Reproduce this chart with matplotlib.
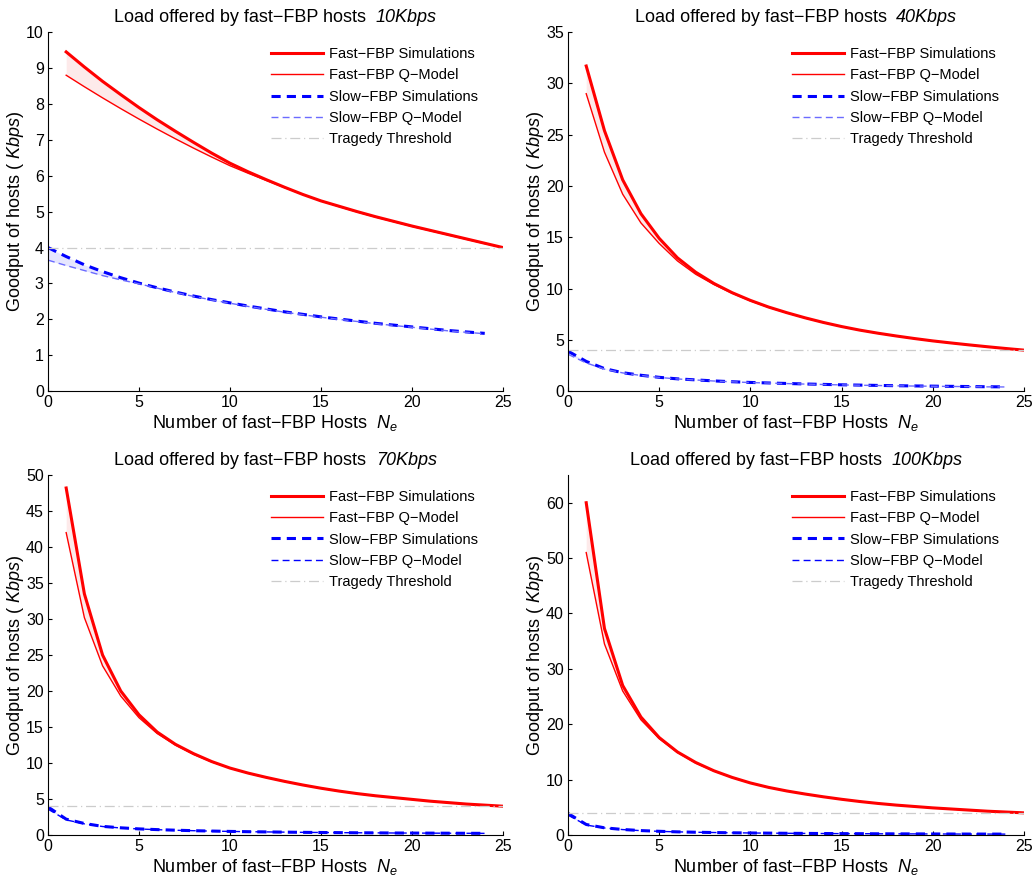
import matplotlib
matplotlib.use('Agg')
import matplotlib.pyplot as plt
from matplotlib.offsetbox import TextArea, HPacker, AnchoredOffsetbox
import numpy as np

plt.rcParams['font.family'] = ['Liberation Sans', 'DejaVu Sans']
plt.rcParams['mathtext.fontset'] = 'custom'
plt.rcParams['mathtext.rm'] = 'Liberation Sans'
plt.rcParams['mathtext.it'] = 'Liberation Sans:italic'

# Данные
loads = ['10Kbps', '40Kbps', '70Kbps', '100Kbps']
n_fast = np.arange(1, 26)
n_slow = np.arange(0, 25)
threshold = 4.0

fast_sim_10 = [9.45, 9.03, 8.63, 8.26, 7.9, 7.56, 7.24, 6.93, 6.63, 6.35, 6.11, 5.89, 5.68,
               5.48, 5.3, 5.15, 5.0, 4.86, 4.73, 4.6, 4.48, 4.36, 4.24, 4.12, 4.0]
fast_mod_10 = [8.8, 8.48, 8.17, 7.87, 7.58, 7.3, 7.03, 6.77, 6.52, 6.28, 6.07, 5.87, 5.67,
               5.48, 5.3, 5.14, 4.99, 4.85, 4.72, 4.59, 4.47, 4.35, 4.23, 4.11, 4.0]
slow_sim_10 = [4.0, 3.75, 3.52, 3.33, 3.16, 3.01, 2.88, 2.76, 2.65, 2.55, 2.46, 2.37, 2.29,
               2.21, 2.14, 2.07, 2.01, 1.95, 1.89, 1.84, 1.79, 1.74, 1.69, 1.65, 1.61]
slow_mod_10 = [3.65, 3.5, 3.36, 3.22, 3.1, 2.99, 2.87, 2.75, 2.64, 2.54, 2.45, 2.36, 2.28,
               2.2, 2.13, 2.06, 2.0, 1.94, 1.88, 1.83, 1.78, 1.73, 1.68, 1.64, 1.6]

fast_sim_40 = [31.7, 25.4, 20.6, 17.3, 14.9, 13.0, 11.6, 10.5, 9.6, 8.85, 8.2, 7.65, 7.15,
               6.7, 6.3, 5.95, 5.65, 5.38, 5.13, 4.9, 4.7, 4.51, 4.33, 4.16, 4.0]
fast_mod_40 = [29.0, 23.3, 19.2, 16.4, 14.4, 12.7, 11.4, 10.4, 9.55, 8.8, 8.17, 7.63, 7.13,
               6.69, 6.29, 5.94, 5.64, 5.37, 5.12, 4.89, 4.69, 4.5, 4.32, 4.15, 4.0]
slow_sim_40 = [3.9, 2.9, 2.2, 1.8, 1.55, 1.35, 1.2, 1.1, 1.0, 0.92, 0.85, 0.8, 0.75,
               0.7, 0.66, 0.62, 0.59, 0.56, 0.53, 0.51, 0.49, 0.47, 0.45, 0.43, 0.42]
slow_mod_40 = [3.6, 2.75, 2.15, 1.78, 1.53, 1.34, 1.19, 1.09, 0.99, 0.91, 0.84, 0.79, 0.74,
               0.69, 0.65, 0.61, 0.58, 0.55, 0.52, 0.5, 0.48, 0.46, 0.44, 0.42, 0.41]

fast_sim_70 = [48.2, 33.5, 25.0, 20.0, 16.7, 14.3, 12.6, 11.3, 10.2, 9.3, 8.6, 8.0, 7.45,
               6.95, 6.5, 6.1, 5.75, 5.45, 5.2, 4.95, 4.7, 4.5, 4.3, 4.15, 4.0]
fast_mod_70 = [42.0, 30.2, 23.5, 19.3, 16.3, 14.1, 12.5, 11.2, 10.15, 9.3, 8.58, 7.98, 7.44,
               6.94, 6.49, 6.09, 5.74, 5.44, 5.19, 4.94, 4.7, 4.5, 4.3, 4.15, 4.0]
slow_sim_70 = [3.9, 2.2, 1.6, 1.2, 1.0, 0.85, 0.75, 0.67, 0.6, 0.55, 0.5, 0.46, 0.43,
               0.4, 0.37, 0.35, 0.33, 0.31, 0.3, 0.28, 0.27, 0.26, 0.25, 0.24, 0.23]
slow_mod_70 = [3.6, 2.1, 1.55, 1.18, 0.98, 0.84, 0.74, 0.66, 0.6, 0.54, 0.5, 0.46, 0.43,
               0.4, 0.37, 0.35, 0.33, 0.31, 0.3, 0.28, 0.27, 0.26, 0.25, 0.24, 0.23]

fast_sim_100 = [60.0, 37.3, 27.0, 21.3, 17.6, 15.0, 13.1, 11.6, 10.4, 9.4, 8.6, 7.95, 7.4,
                6.9, 6.45, 6.05, 5.7, 5.4, 5.15, 4.9, 4.7, 4.5, 4.3, 4.15, 4.0]
fast_mod_100 = [51.0, 34.5, 26.0, 20.8, 17.4, 14.9, 13.0, 11.55, 10.38, 9.4, 8.6, 7.95, 7.4,
                6.9, 6.45, 6.05, 5.7, 5.4, 5.15, 4.9, 4.7, 4.5, 4.3, 4.15, 4.0]
slow_sim_100 = [3.9, 1.9, 1.3, 1.0, 0.8, 0.67, 0.57, 0.5, 0.45, 0.4, 0.37, 0.34, 0.31,
                0.29, 0.27, 0.25, 0.24, 0.22, 0.21, 0.2, 0.19, 0.18, 0.17, 0.17, 0.16]
slow_mod_100 = [3.6, 1.8, 1.27, 0.98, 0.79, 0.66, 0.57, 0.5, 0.45, 0.4, 0.37, 0.34, 0.31,
                0.29, 0.27, 0.25, 0.24, 0.22, 0.21, 0.2, 0.19, 0.18, 0.17, 0.17, 0.16]

fast_sim = [fast_sim_10, fast_sim_40, fast_sim_70, fast_sim_100]
fast_mod = [fast_mod_10, fast_mod_40, fast_mod_70, fast_mod_100]
slow_sim = [slow_sim_10, slow_sim_40, slow_sim_70, slow_sim_100]
slow_mod = [slow_mod_10, slow_mod_40, slow_mod_70, slow_mod_100]
y_max = [10, 35, 50, 65]
y_ticks_max = [10, 35, 50, 60]
y_step = [1, 5, 5, 10]
slow_mod_color = ['#6b6bff', '#6b6bff', 'blue', 'blue']

fig = plt.figure(figsize=(10.34, 8.81), dpi=100)
positions = [[0.0464, 0.556, 0.440, 0.4075],
             [0.5493, 0.556, 0.441, 0.4075],
             [0.0464, 0.0522, 0.440, 0.4086],
             [0.5493, 0.0522, 0.441, 0.4086]]

minus = '\u2212'
for i in range(4):
    ax = fig.add_axes(positions[i])
    ax.fill_between(n_fast, fast_sim[i], fast_mod[i], color='#fdeaea', lw=0)
    ax.fill_between(n_slow, slow_sim[i], slow_mod[i], color='#e6e6ff', lw=0)
    ax.plot(n_fast, fast_sim[i], color='red', lw=2.2, label=f'Fast{minus}FBP Simulations')
    ax.plot(n_fast, fast_mod[i], color='red', lw=1.0, label=f'Fast{minus}FBP Q{minus}Model')
    ax.plot(n_slow, slow_sim[i], color='blue', lw=2.2, ls=(0, (3, 2)),
            label=f'Slow{minus}FBP Simulations')
    ax.plot(n_slow, slow_mod[i], color=slow_mod_color[i], lw=1.0, ls=(0, (5, 3)),
            label=f'Slow{minus}FBP Q{minus}Model')
    ax.plot([0, 25], [threshold, threshold], color='#cccccc', lw=0.9,
            ls=(0, (8, 3, 1, 3)), label='Tragedy Threshold')

    ax.set_xlim(0, 25)
    ax.set_ylim(0, y_max[i])
    ax.set_xticks(np.arange(0, 26, 5))
    ax.set_yticks(np.arange(0, y_ticks_max[i] + 0.01, y_step[i]))
    ax.spines['top'].set_visible(False)
    ax.spines['right'].set_visible(False)
    ax.tick_params(direction='in', labelsize=11.5, length=3, pad=3)

    # заголовок: обычная часть + курсивная нагрузка
    t1 = TextArea(f'Load offered by fast{minus}FBP hosts', textprops=dict(fontsize=13))
    t2 = TextArea(loads[i], textprops=dict(fontsize=13, style='italic'))
    box = HPacker(children=[t1, t2], align='baseline', pad=0, sep=7)
    title = AnchoredOffsetbox(loc='lower center', child=box, pad=0, borderpad=0,
                              frameon=False, bbox_to_anchor=(0.5, 1.018),
                              bbox_transform=ax.transAxes)
    ax.add_artist(title)

    ax.set_xlabel(f'Number of fast{minus}FBP Hosts  $N_e$', fontsize=13, labelpad=2)
    ax.set_ylabel('Goodput of hosts ( $\\mathit{Kbps}$)', fontsize=13, labelpad=0)
    ax.legend(loc='upper right', bbox_to_anchor=(0.974, 0.995), frameon=False,
              fontsize=10.5, handlelength=3.6, labelspacing=0.5, handletextpad=0.4)

fig.savefig('out.png', dpi=100)
